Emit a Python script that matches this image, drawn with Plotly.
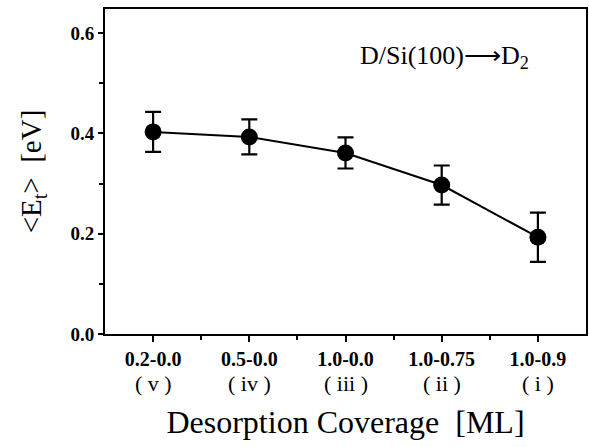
import plotly.graph_objects as go

coverage = ["0.2-0.0", "0.5-0.0", "1.0-0.0", "1.0-0.75", "1.0-0.9"]
roman = ["v", "iv", "iii", "ii", "i"]
energy = [0.403, 0.393, 0.361, 0.297, 0.193]
err = [0.040, 0.035, 0.031, 0.039, 0.049]
yticks = [0.0, 0.2, 0.4, 0.6]
yminor = [0.1, 0.3, 0.5]

xpos = list(range(len(coverage)))
xminor = [i + 0.5 for i in xpos[:-1]]

FONT = "Liberation Serif, Times New Roman, Times, serif"

fig = go.Figure()
fig.add_trace(go.Scatter(
    x=xpos, y=energy,
    mode="lines+markers",
    line=dict(color="black", width=2),
    marker=dict(color="black", size=17),
    error_y=dict(type="data", array=err, visible=True, color="black",
                 thickness=2.2, width=8),
    showlegend=False,
))

for xi, r in zip(xpos, roman):
    fig.add_annotation(x=xi, y=-0.151, xref="x", yref="paper", text="( %s )" % r,
                       showarrow=False, yanchor="middle",
                       font=dict(family=FONT, size=22, color="black"))

fig.add_annotation(x=3.03, y=0.552, xref="x", yref="y",
                   text="D/Si(100)\u27f6D<sub>2</sub>", showarrow=False,
                   font=dict(family=FONT, size=26, color="black"))

fig.update_layout(
    width=589, height=447,
    margin=dict(l=105, r=3, t=9, b=113),
    paper_bgcolor="white", plot_bgcolor="white",
    font=dict(family=FONT, color="black"),
    xaxis=dict(
        range=[-0.5, 4.5], tickvals=xpos, ticktext=["<b>%s</b>" % c for c in coverage],
        tickfont=dict(family=FONT, size=20, color="black"),
        ticks="outside", ticklen=6, tickwidth=2, tickcolor="black",
        minor=dict(tickvals=xminor, ticks="outside", ticklen=4, tickwidth=1.5, tickcolor="black"),
        showline=True, linecolor="black", linewidth=2, mirror=True,
        showgrid=False, zeroline=False, automargin=False,
        title=dict(text="Desorption Coverage  [ML]", standoff=42,
                   font=dict(family=FONT, size=32, color="black")),
    ),
    yaxis=dict(
        range=[0, 0.648], tickvals=yticks, ticktext=["<b>%.1f</b>" % v for v in yticks],
        tickfont=dict(family=FONT, size=19, color="black"),
        ticks="outside", ticklen=5, tickwidth=2, tickcolor="black",
        minor=dict(tickvals=yminor, ticks="outside", ticklen=4, tickwidth=1.5, tickcolor="black"),
        showline=True, linecolor="black", linewidth=2, mirror=True,
        showgrid=False, zeroline=False, automargin=False,
        title=dict(text="<E<sub>t</sub>>  [eV]", standoff=20,
                   font=dict(family=FONT, size=29, color="black")),
    ),
)

fig.write_html("out.html")
